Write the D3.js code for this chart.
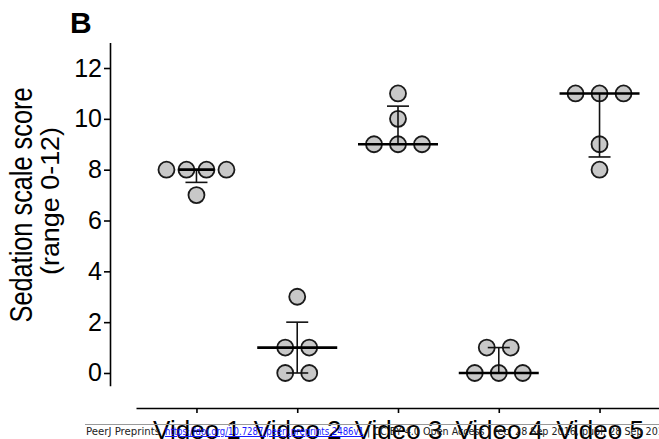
<!DOCTYPE html>
<html>
<head>
<meta charset="utf-8">
<script src="https://cdn.jsdelivr.net/npm/d3@7"></script>
<style>
  body { margin: 0; background: #fff; }
  svg { display: block; font-family: 'Liberation Sans', Arial, sans-serif; }
</style>
</head>
<body>
<svg id="chart" width="659" height="439"></svg>
<script>
const categories = ['Video 1', 'Video 2', 'Video 3', 'Video 4', 'Video 5'];
const scores = [
  [8, 8, 8, 8, 7],
  [3, 1, 1, 0, 0],
  [11, 10, 9, 9, 9],
  [1, 1, 0, 0, 0],
  [11, 11, 11, 9, 8],
];
const yTicks = [0, 2, 4, 6, 8, 10, 12];
const yTitle = ['Sedation scale score', '(range 0-12)'];
const panelLabel = 'B';
const footer = {
  left: 'PeerJ Preprints',
  link: 'https://doi.org/10.7287/peerj.preprints.2486v1',
  right: '| CC BY 4.0 Open Access | rec: 28 Sep 2016, publ: 28 Sep 2016',
};

const svg = d3.select('#chart');

const yScale = d3.scaleLinear()
  .domain([-0.5, 13])
  .range([385.7, 42.6]);

const xScale = d3.scalePoint()
  .domain(categories)
  .range([136, 660])
  .padding(0.6);

// quartiles the Prism way: position (n+1)p on sorted data
const quantile = (arr, p) => {
  const s = arr.slice().sort((a, b) => a - b);
  const pos = (s.length + 1) * p - 1;
  const lo = Math.floor(pos);
  const hi = Math.ceil(pos);
  return s[lo] + (s[hi] - s[lo]) * (pos - lo);
};

// y axis
const gY = svg.append('g')
  .attr('transform', 'translate(110,0)')
  .call(d3.axisLeft(yScale).tickValues(yTicks).tickSize(6).tickSizeOuter(0).tickPadding(2));
gY.select('.domain').attr('stroke', '#000').attr('stroke-width', 1.6);
gY.selectAll('.tick line').attr('stroke', '#000').attr('stroke-width', 1.6);
gY.selectAll('.tick text')
  .attr('fill', '#000')
  .style('font-size', '25px')
  .style('font-family', "'Liberation Sans', Arial, sans-serif");

// x axis
const gX = svg.append('g')
  .attr('transform', 'translate(0,408)')
  .call(d3.axisBottom(xScale).tickSize(5).tickSizeOuter(0));
gX.select('.domain').attr('stroke', '#000').attr('stroke-width', 1.6);
gX.selectAll('.tick line').attr('stroke', '#000').attr('stroke-width', 1.6);
gX.selectAll('.tick text')
  .attr('fill', '#000')
  .attr('y', 31)
  .attr('dy', 0)
  .style('font-size', '26px')
  .style('font-family', "'Liberation Sans', Arial, sans-serif");

// y title
svg.append('text')
  .attr('transform', 'translate(32,205) rotate(-90)')
  .attr('text-anchor', 'middle')
  .attr('textLength', 235)
  .attr('lengthAdjust', 'spacingAndGlyphs')
  .style('font-size', '31px')
  .text(yTitle[0]);
svg.append('text')
  .attr('transform', 'translate(59,201) rotate(-90)')
  .attr('text-anchor', 'middle')
  .attr('textLength', 148)
  .attr('lengthAdjust', 'spacingAndGlyphs')
  .style('font-size', '26px')
  .text(yTitle[1]);

// panel label
svg.append('text')
  .attr('x', 70)
  .attr('y', 33)
  .style('font-size', '30px')
  .style('font-weight', 'bold')
  .text(panelLabel);

// points, spread sideways when they share a value
const points = [];
scores.forEach((vals, gi) => {
  const byVal = d3.group(vals, v => v);
  byVal.forEach((arr, v) => {
    const n = arr.length;
    const gap = n >= 4 ? 20 : 24;
    arr.forEach((_, i) => {
      points.push({ cat: categories[gi], value: v, off: (i - (n - 1) / 2) * gap });
    });
  });
});

svg.append('g').selectAll('circle')
  .data(points)
  .join('circle')
  .attr('cx', d => xScale(d.cat) + d.off)
  .attr('cy', d => yScale(d.value))
  .attr('r', 8)
  .attr('fill', '#c8c8c8')
  .attr('stroke', '#1a1a1a')
  .attr('stroke-width', 1.8);

// median with interquartile range
const stats = scores.map((vals, gi) => ({
  cat: categories[gi],
  med: d3.median(vals),
  q1: quantile(vals, 0.25),
  q3: quantile(vals, 0.75),
  half: gi === 0 ? 18 : 40,
}));

const bars = svg.append('g').selectAll('g')
  .data(stats)
  .join('g')
  .attr('transform', d => `translate(${xScale(d.cat)},0)`);

bars.append('line')
  .attr('y1', d => yScale(d.q1))
  .attr('y2', d => yScale(d.q3))
  .attr('stroke', '#111')
  .attr('stroke-width', 1.6);

bars.selectAll('line.cap')
  .data(d => [d.q1, d.q3].filter(q => q !== d.med))
  .join('line')
  .attr('class', 'cap')
  .attr('x1', -11)
  .attr('x2', 11)
  .attr('y1', q => yScale(q))
  .attr('y2', q => yScale(q))
  .attr('stroke', '#111')
  .attr('stroke-width', 1.6);

bars.append('line')
  .attr('x1', d => -d.half)
  .attr('x2', d => d.half)
  .attr('y1', d => yScale(d.med))
  .attr('y2', d => yScale(d.med))
  .attr('stroke', '#000')
  .attr('stroke-width', 2.6);

// preprint footer
const foot = svg.append('g').style('font-family', "'DejaVu Sans', sans-serif");
foot.append('line')
  .attr('x1', 85).attr('x2', 659)
  .attr('y1', 424.5).attr('y2', 424.5)
  .attr('stroke', '#999')
  .attr('stroke-width', 1);
foot.append('text')
  .attr('x', 86).attr('y', 435)
  .attr('textLength', 74)
  .attr('lengthAdjust', 'spacingAndGlyphs')
  .style('font-size', '10px')
  .attr('fill', '#222')
  .text(footer.left);
foot.append('text')
  .attr('x', 165).attr('y', 435)
  .attr('textLength', 199)
  .attr('lengthAdjust', 'spacingAndGlyphs')
  .style('font-size', '10px')
  .style('text-decoration', 'underline')
  .attr('fill', '#1a1aff')
  .text(footer.link);
foot.append('text')
  .attr('x', 367).attr('y', 435)
  .style('font-size', '9.6px')
  .attr('fill', '#222')
  .text(footer.right);
</script>
</body>
</html>
